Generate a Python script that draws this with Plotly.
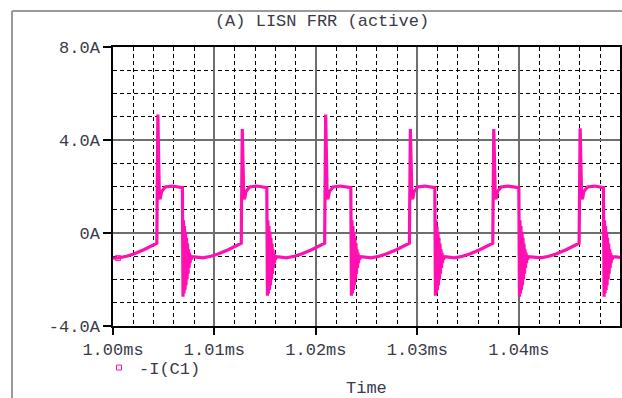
import plotly.graph_objects as go

# ---------------- data (time in µs after 1.00 ms) ----------------
t_on_us = [4.34, 12.66, 20.88, 29.23, 37.45, 45.96]      # turn-on spike instants
t_off_us = [6.84, 15.16, 23.44, 31.72, 40.00, 48.34]     # turn-off (falling edge) instants
peak_A = [5.10, 4.47, 5.10, 4.47, 4.47, 4.50]            # spike peaks
trough_A = [-2.74, -2.70, -2.70, -2.70, -2.74, -2.74]    # first undershoot after turn-off
start_A = -1.08
end_A = -1.05

# base ramp before each turn-on: offsets (µs) from turn-on and values (A)
ramp_dt = [-3.8, -3.0, -2.3, -1.3, -0.6, -0.02]
ramp_A = [-1.07, -1.00, -0.90, -0.72, -0.58, -0.44]

# pulse top after the spike: offsets (µs) from turn-on and values (A)
top_dt = [0.16, 0.19, 0.23, 0.30, 0.45, 0.8, 1.5]
top_A = [2.30, 3.40, 1.55, 1.45, 1.78, 1.98, 2.02]
plateau_end_A = 1.95

# ringing after turn-off: successive extremes (A)
ring_A = [0.55, -2.60, 0.30, -2.45, 0.05, -2.25, -0.2, -2.0, -0.45, -1.75,
          -0.7, -1.5, -0.85, -1.3, -0.95, -1.15, -1.05]
ring_step_us = 0.05
settle_dt = [1.0]
settle_A = [-1.02]

y_tick_vals = [-4, 0, 4, 8]
y_tick_text = ["-4.0A", "0A", "4.0A", "8.0A"]
x_tick_vals = [1.00, 1.01, 1.02, 1.03, 1.04]
x_tick_text = ["1.00ms", "1.01ms", "1.02ms", "1.03ms", "1.04ms"]

# ---------------- build the trace from the readings ----------------
ts = [0.0]
vs = [start_A]
for i in range(len(t_on_us)):
    on, off = t_on_us[i], t_off_us[i]
    for dt, a in zip(ramp_dt, ramp_A):
        if on + dt > ts[-1]:
            ts.append(on + dt); vs.append(a)
    ts.append(on + 0.08); vs.append(peak_A[i])
    for dt, a in zip(top_dt, top_A):
        ts.append(on + dt); vs.append(a)
    ts.append(off); vs.append(plateau_end_A)
    ts.append(off + 0.06); vs.append(trough_A[i])
    for k, a in enumerate(ring_A):
        ts.append(off + 0.06 + (k + 1) * ring_step_us); vs.append(a)
    for dt, a in zip(settle_dt, settle_A):
        ts.append(off + dt); vs.append(a)
ts.append(50.0); vs.append(end_A)

t_ms = [1.0 + t / 1000.0 for t in ts]

PINK = "#ff10b0"
TXT = "#3a3a48"
FONT = "Liberation Mono"

fig = go.Figure()
fig.add_trace(go.Scatter(x=t_ms, y=vs, mode="lines",
                         line=dict(color=PINK, width=3.2), showlegend=False))
fig.add_trace(go.Scatter(x=[t_ms[0] + 0.0005], y=[vs[0]], mode="markers",
                         marker=dict(symbol="square-open", size=5, color=PINK,
                                     line=dict(width=1, color=PINK)),
                         name="-I(C1)"))

W, H = 622, 398
L, R, T, B = 113, 2, 47, 72
pw = W - L - R
ph = H - T - B

def px_x(p):
    return (p - L) / pw

def px_y(p):
    return (H - B - p) / ph

fig.update_layout(
    width=W, height=H,
    margin=dict(l=L, r=R, t=T, b=B, autoexpand=False),
    paper_bgcolor="white", plot_bgcolor="white",
    font=dict(family=FONT, size=17, color=TXT),
    title=dict(text="(A) LISN FRR (active)", xref="container", yref="container",
               x=322 / W, xanchor="center", y=1 - 20 / H, yanchor="middle",
               font=dict(family=FONT, size=17, color=TXT)),
    legend=dict(x=px_x(99), y=px_y(368), xanchor="left", yanchor="middle",
                orientation="h", bgcolor="rgba(0,0,0,0)",
                font=dict(family=FONT, size=17, color=TXT)),
    annotations=[dict(text="Time", xref="paper", yref="paper", x=0.5,
                      y=px_y(388), xanchor="center", yanchor="middle",
                      showarrow=False, font=dict(family=FONT, size=17, color=TXT))],
    shapes=[
        dict(type="line", xref="paper", yref="paper", x0=px_x(12), x1=px_x(12),
             y0=px_y(11), y1=px_y(400), line=dict(color="#9a9a9a", width=2)),
        dict(type="line", xref="paper", yref="paper", x0=px_x(12), x1=px_x(640),
             y0=px_y(11), y1=px_y(11), line=dict(color="#9a9a9a", width=2)),
    ],
)

fig.update_xaxes(
    range=[1.0, 1.04997], tickmode="array", tickvals=x_tick_vals, ticktext=x_tick_text,
    ticks="outside", ticklen=7, tickwidth=1.5, tickcolor="black", automargin=False,
    showline=True, linecolor="black", linewidth=1.5, mirror=True,
    showgrid=True, gridcolor="#6e6e6e", gridwidth=1.5, zeroline=False,
    minor=dict(tickmode="linear", tick0=1.0, dtick=0.002, showgrid=True,
               gridcolor="black", griddash="4px,3px", gridwidth=1, ticks=""),
    tickfont=dict(family=FONT, size=17, color=TXT),
)
fig.update_yaxes(
    range=[-4, 8], tickmode="array", tickvals=y_tick_vals, ticktext=y_tick_text,
    ticks="outside", ticklen=8, tickwidth=1.5, tickcolor="black", automargin=False,
    showline=True, linecolor="black", linewidth=1.5, mirror=True,
    showgrid=True, gridcolor="#6e6e6e", gridwidth=1.5, zeroline=False,
    minor=dict(tickmode="linear", tick0=0, dtick=1, showgrid=True,
               gridcolor="black", griddash="4px,3px", gridwidth=1, ticks=""),
    tickfont=dict(family=FONT, size=17, color=TXT),
)

fig.write_html("out.html",
               config={"displayModeBar": False},
               post_script="document.body.style.margin='0';"
                           "document.body.style.overflow='hidden';")
